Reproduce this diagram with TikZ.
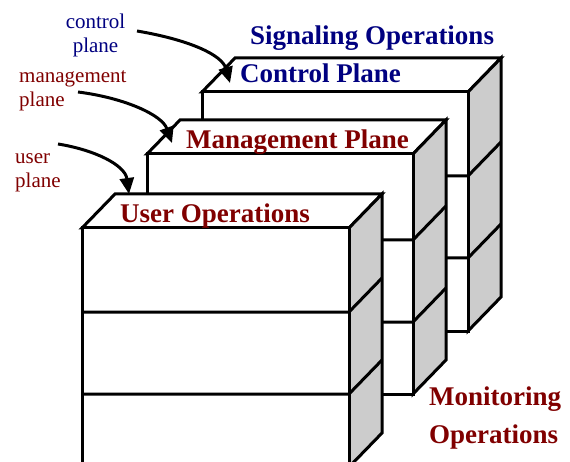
\documentclass[tikz,border=0pt]{standalone}
\usepackage{fontspec}
\setmainfont{Liberation Serif}
\usetikzlibrary{arrows.meta}

\definecolor{planeblue}{RGB}{0,0,128}
\definecolor{planered}{RGB}{128,0,0}
\definecolor{sidegray}{RGB}{204,204,204}

\tikzset{
  edge/.style={draw=black, line width=3pt, line join=miter},
  frontface/.style={edge, fill=white},
  sideface/.style={edge, fill=sidegray},
  pointer/.style={line width=3pt, -{Triangle[length=16pt, width=14pt]}},
  heading/.style={inner sep=0pt, font=\fontsize{27}{38}\selectfont\bfseries},
  caption/.style={inner sep=0pt, font=\fontsize{21}{24}\selectfont},
}

% A stack of three operation layers drawn as a box with depth.
% #1 left, #2 top, #3 right, #4 first divider, #5 second divider, #6 bottom
\newcommand{\opstack}[6]{%
  \filldraw[frontface] (#1,#2) -- ({#1+33},{#2-34}) -- ({#3+33},{#2-34}) -- (#3,#2) -- cycle;
  \filldraw[sideface] (#3,#2) -- ({#3+33},{#2-34}) -- ({#3+33},{#6-34}) -- (#3,#6) -- cycle;
  \filldraw[frontface] (#1,#2) rectangle (#3,#6);
  \draw[edge] (#1,#4) -- (#3,#4) -- ++(33,-34);
  \draw[edge] (#1,#5) -- (#3,#5) -- ++(33,-34);
}

\begin{document}
\begin{tikzpicture}[x=1pt, y=-1pt]
\useasboundingbox (0,0) rectangle (570,462);
\clip (0,0) rectangle (570,462);

% stacks, back to front
\opstack{202}{92}{468}{176}{258}{331}
\opstack{147}{154}{413}{240}{322}{394}
\opstack{82}{228}{349}{312}{394}{467}

% headings (multi-line nodes sit on the baseline of their last line)
\node[heading, text=planeblue, anchor=base west] (sig) at (250,45) {Signaling Operations};
\node[heading, text=planeblue, anchor=base west] (ctl) at (240,83) {Control Plane};
\node[heading, text=planered, anchor=base west] (mgt) at (186,149) {Management Plane};
\node[heading, text=planered, anchor=base west] (usr) at (120,223) {User Operations};
\node[heading, text=planered, anchor=base west, align=left] (mon) at (429,443) {Monitoring\\Operations};

% plane labels
\node[caption, text=planeblue, anchor=base, align=center] (lctl) at (95.5,53) {control\\plane};
\node[caption, text=planered, anchor=base west, align=left] (lmgt) at (19,107) {management\\plane};
\node[caption, text=planered, anchor=base west, align=left] (lusr) at (15,188) {user\\plane};

% pointer ends
\coordinate (sctl) at (137,31);
\coordinate (tctl) at (230,83);
\coordinate (smgt) at (78,92);
\coordinate (tmgt) at (172,143);
\coordinate (susr) at (58,144);
\coordinate (tusr) at (129,194);

\draw[pointer] (sctl) .. controls (190,40) and (222,55) .. (tctl);
\draw[pointer] (smgt) .. controls (125,98) and (162,115) .. (tmgt);
\draw[pointer] (susr) .. controls (95,150) and (125,165) .. (tusr);
\end{tikzpicture}
\end{document}
